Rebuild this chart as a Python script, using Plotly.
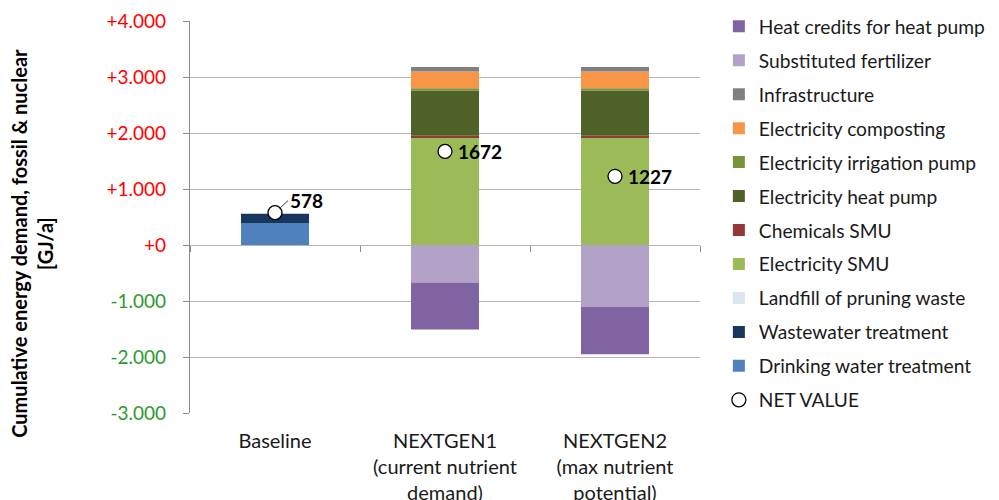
import plotly.graph_objects as go

# ---------------- data ----------------
categories = ["Baseline",
              "NEXTGEN1<br>(current nutrient<br>demand)",
              "NEXTGEN2<br>(max nutrient<br>potential)"]

drinking_water = [395, 0, 0]
wastewater = [165, 0, 0]
landfill_pruning = [0, 0, 0]
electricity_smu = [0, 1920, 1920]
chemicals_smu = [0, 30, 30]
electricity_heat_pump = [0, 810, 810]
electricity_irrigation = [0, 40, 40]
electricity_composting = [0, 300, 300]
infrastructure = [0, 80, 80]
substituted_fertilizer = [0, -670, -1105]
heat_credits = [0, -838, -848]
net_value = [578, 1672, 1227]

tick_vals = [-3000, -2000, -1000, 0, 1000, 2000, 3000, 4000]
tick_labels = ["-3.000", "-2.000", "-1.000", "+0", "+1.000", "+2.000", "+3.000", "+4.000"]

# ---------------- styling ----------------
FONT = "Lato"
RED = "#FF0000"
GREEN = "#2E9A2E"
GRID = "#B4B4B4"

series = [
    ("Drinking water treatment", drinking_water, "#4F81BD"),
    ("Wastewater treatment", wastewater, "#17375E"),
    ("Landfill of pruning waste", landfill_pruning, "#DCE6F2"),
    ("Electricity SMU", electricity_smu, "#9BBB59"),
    ("Chemicals SMU", chemicals_smu, "#953735"),
    ("Electricity heat pump", electricity_heat_pump, "#4F6228"),
    ("Electricity irrigation pump", electricity_irrigation, "#77933C"),
    ("Electricity composting", electricity_composting, "#F79646"),
    ("Infrastructure", infrastructure, "#808080"),
    ("Substituted fertilizer", substituted_fertilizer, "#B3A2C7"),
    ("Heat credits for heat pump", heat_credits, "#8064A2"),
]

fig = go.Figure()
n = len(series)
for i, (name, vals, col) in enumerate(series):
    fig.add_trace(go.Bar(
        x=categories, y=vals, name=name,
        marker=dict(color=col, line=dict(width=0)),
        width=0.4, legendrank=n - i, legendgroup=name,
        hoverinfo="skip",
    ))

fig.add_trace(go.Scatter(
    x=categories, y=net_value, name="NET VALUE", mode="markers",
    marker=dict(symbol="circle", size=14, color="white",
                line=dict(color="black", width=1.3)),
    legendrank=100, legendgroup="net", hoverinfo="skip",
))

# invisible helper trace so the zero-line category axis gets its ticks
fig.add_trace(go.Scatter(x=categories, y=net_value, mode="markers",
                         marker=dict(opacity=0, size=1),
                         xaxis="x2", showlegend=False, hoverinfo="skip"))

# net labels
for i, (c, v) in enumerate(zip(categories, net_value)):
    if i == 0:
        fig.add_annotation(x=c, y=v, text="<b>%d</b>" % v, showarrow=True,
                           arrowhead=0, arrowwidth=1, arrowcolor="#404040",
                           ax=13, ay=-12, xanchor="left", yanchor="middle",
                           standoff=6,
                           font=dict(family=FONT, size=19, color="black"))
    else:
        fig.add_annotation(x=c, y=v, text="<b>%d</b>" % v, showarrow=False,
                           xanchor="left", yanchor="middle", xshift=11,
                           font=dict(family=FONT, size=19, color="black"))

# y-axis title
fig.add_annotation(xref="paper", yref="paper", x=-0.31, y=0.434,
                   text="<b>Cumulative energy demand, fossil &amp; nuclear<br>[GJ/a]</b>",
                   textangle=-90, showarrow=False, xanchor="center", yanchor="middle",
                   font=dict(family=FONT, size=20, color="black"))

ticktext = ['<span style="color:%s">%s</span>' % (RED if v >= 0 else GREEN, t)
            for v, t in zip(tick_vals, tick_labels)]

fig.update_layout(
    width=991, height=492,
    margin=dict(l=182, r=299, t=13, b=87, autoexpand=False),
    barmode="relative", bargap=0.6,
    paper_bgcolor="white", plot_bgcolor="white",
    font=dict(family=FONT, size=20, color="#1a1a1a"),
    xaxis=dict(type="category", categoryarray=categories, range=[-0.5, 2.5],
               showgrid=False, showline=False, ticks="", automargin=False,
               ticklabelstandoff=14, tickfont=dict(size=20, color="#1a1a1a")),
    xaxis2=dict(type="category", categoryarray=categories, range=[-0.5, 2.5],
                overlaying="x", anchor="free", position=3 / 7,
                tickson="boundaries", ticks="outside", ticklen=6,
                tickcolor="#8C8C8C", tickwidth=1.2, showticklabels=False,
                showgrid=False, showline=False, zeroline=False),
    yaxis=dict(range=[-3000, 4000], tickvals=tick_vals, ticktext=ticktext,
               showgrid=True, gridcolor=GRID, gridwidth=1.2,
               zeroline=False, showline=True, linecolor="#8C8C8C", linewidth=1.2,
               ticks="outside", ticklen=6, tickcolor="#8C8C8C",
               ticklabelstandoff=13, automargin=False,
               tickfont=dict(size=19)),
    legend=dict(x=1.037, y=1.035, xanchor="left", yanchor="top",
                traceorder="grouped", tracegroupgap=6, maxheight=490,
                font=dict(family=FONT, size=19.2, color="#1a1a1a"),
                bgcolor="rgba(0,0,0,0)"),
    showlegend=True,
)

fig.write_html("out.html")
